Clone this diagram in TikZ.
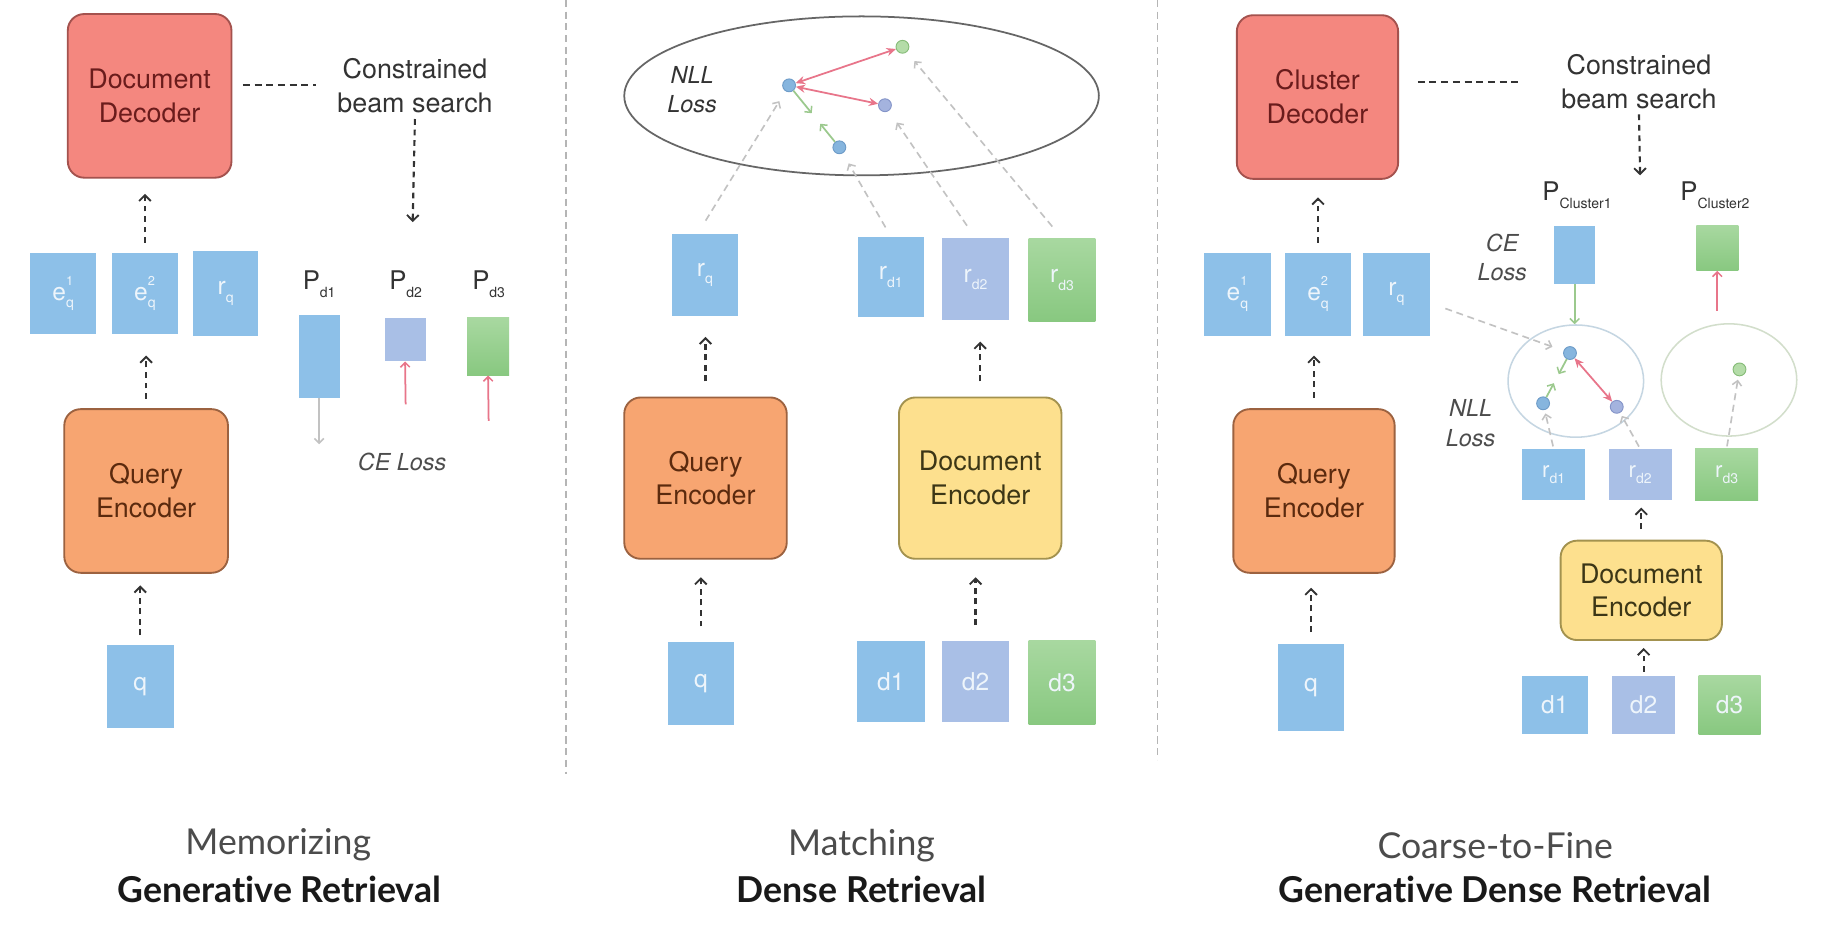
\documentclass[tikz,border=0pt]{standalone}
\usepackage{fontspec}
\setmainfont{TeX Gyre Heros}
\newfontfamily\capfont[Ligatures=NoCommon]{Lato}
\usetikzlibrary{arrows.meta,calc,shapes.geometric}

\definecolor{decfill}{HTML}{F4877F}
\definecolor{decdraw}{HTML}{A4524E}
\definecolor{dectext}{HTML}{6A1C1C}
\definecolor{qefill}{HTML}{F7A571}
\definecolor{qedraw}{HTML}{9C6240}
\definecolor{qetext}{HTML}{5B2A0E}
\definecolor{defill}{HTML}{FDE08E}
\definecolor{dedraw}{HTML}{A3924F}
\definecolor{detext}{HTML}{3C3616}
\definecolor{bblue}{HTML}{8DC0E8}
\definecolor{bpurp}{HTML}{A9BFE6}
\definecolor{bgreen}{HTML}{88C880}
\definecolor{bgreenl}{HTML}{A8D8A0}
\definecolor{btext}{HTML}{EEF5FB}
\definecolor{redarr}{HTML}{E8758A}
\definecolor{greenarr}{HTML}{9BC98D}
\definecolor{grayarr}{HTML}{C2C2C2}
\definecolor{sepcol}{HTML}{B5B5B5}
\definecolor{dasharr}{HTML}{333333}
\definecolor{ptblue}{HTML}{86B5DE}
\definecolor{ptblued}{HTML}{6E9CC8}
\definecolor{ptgreen}{HTML}{B4DCA8}
\definecolor{ptgreend}{HTML}{86BC78}
\definecolor{ptpurp}{HTML}{A4B3DE}
\definecolor{ptpurpd}{HTML}{8494C8}
\definecolor{clblue}{HTML}{C5D6E2}
\definecolor{clgreen}{HTML}{D2DECB}

\newcommand\sbx[2]{#1\raisebox{-0.3em}{\fontsize{12}{12}\selectfont #2}}
\newcommand\esx[3]{#1\rlap{\raisebox{0.6em}{\fontsize{11}{11}\selectfont #3}}\raisebox{-0.3em}{\fontsize{12}{12}\selectfont #2}}

\tikzset{
 bigbox/.style={rounded corners=14pt, line width=1.6pt, minimum width=140pt, minimum height=140pt, align=center, font=\fontsize{23}{29}\selectfont, inner sep=0pt},
 decbox/.style={bigbox, fill=decfill, draw=decdraw, text=dectext},
 qebox/.style={bigbox, fill=qefill, draw=qedraw, text=qetext},
 debox/.style={bigbox, fill=defill, draw=dedraw, text=detext},
 vbox/.style={minimum width=56pt, minimum height=70pt, inner sep=0pt, text=btext, font=\fontsize{21}{21}\selectfont},
 vb/.style={vbox, fill=bblue},
 vp/.style={vbox, fill=bpurp},
 vg/.style={vbox, top color=bgreenl, bottom color=bgreen},
 darr/.style={draw=dasharr, line width=1.8pt, dash pattern=on 5pt off 4pt, -{Straight Barb[length=5pt,width=10pt,line width=1.6pt]}},
 dline/.style={draw=dasharr, line width=1.5pt, dash pattern=on 6pt off 4pt},
 garr/.style={draw=grayarr, line width=1.4pt, dash pattern=on 6pt off 4pt, -{Straight Barb[length=4pt,width=8pt,line width=1.3pt]}},
 gsol/.style={draw=grayarr, line width=1.5pt, -{Straight Barb[length=4pt,width=8pt,line width=1.3pt]}},
 rarr/.style={draw=redarr, line width=1.5pt, {Stealth[length=8pt,width=7pt]}-{Stealth[length=8pt,width=7pt]}},
 rup/.style={draw=redarr, line width=1.5pt, -{Straight Barb[length=4pt,width=8pt,line width=1.3pt]}},
 grarr/.style={draw=greenarr, line width=1.5pt, -{Straight Barb[length=4pt,width=8pt,line width=1.3pt]}},
 embd/.style={circle, minimum size=11pt, inner sep=0pt, line width=0.8pt},
 eb/.style={embd, fill=ptblue, draw=ptblued},
 eg/.style={embd, fill=ptgreen, draw=ptgreend},
 ep/.style={embd, fill=ptpurp, draw=ptpurpd},
 lbl/.style={font=\fontsize{23}{29}\selectfont, align=center, text=black!80},
 plab/.style={font=\fontsize{22}{22}\selectfont, text=black!80},
 loss/.style={font=\fontsize{20}{25}\selectfont\itshape, text=black!70, align=center},
 sepline/.style={draw=sepcol, line width=1.3pt, dash pattern=on 6pt off 4pt},
 cap1/.style={font=\capfont\fontsize{30.5}{30.5}\selectfont, text=black!70},
 cap2/.style={font=\capfont\bfseries\fontsize{30.5}{30.5}\selectfont, text=black!90},
}

\begin{document}
\begin{tikzpicture}[x=1pt,y=-1pt]
\fill[white] (0,0) rectangle (1568,804);
\useasboundingbox (0,0) rectangle (1568,804);

% ================= LEFT PANEL =================
\node[decbox] (dec1) at (128,82) {Document\\Decoder};
\node[lbl] (cbs1) at (355,73) {Constrained\\beam search};
\draw[dline, shorten <=9pt, shorten >=15pt] (dec1.east |- cbs1) -- (cbs1.west);
\coordinate (bs1) at (353,190);
\draw[darr, shorten <=2pt] (cbs1.south) -- (bs1);

\node[vb] (e1a) at (54,251) {\esx{e}{q}{1}};
\node[vb] (e1b) at (124,251) {\esx{e}{q}{2}};
\node[vb, minimum height=72pt] (rq1) at (193,251) {\sbx{r}{q}};
\draw[darr, shorten <=8pt, shorten >=13pt] (e1b.north) -- (e1b.north |- dec1.south);

\node[plab] (pl1) at (273,243) {\sbx{P}{d1}};
\node[plab] (pl2) at (347,243) {\sbx{P}{d2}};
\node[plab] (pl3) at (418,243) {\sbx{P}{d3}};
\node[vb, minimum width=35pt, minimum height=71pt] (pd1) at (273,305) {};
\node[vp, minimum width=35pt, minimum height=37pt] (pd2) at (346.5,290.5) {};
\node[vg, minimum width=36pt, minimum height=49pt] (pd3) at (417.5,296.5) {};
\coordinate (ce1a) at (273,380);
\draw[gsol] (pd1.south) -- (ce1a);
\node[loss] (ce1) at (344,395) {CE Loss};
\coordinate (r1a) at (347,346);
\draw[rup] (r1a) -- (pd2.south);
\coordinate (r1b) at (418,360);
\draw[rup] (r1b) -- (pd3.south);

\node[qebox] (qe1) at (125,420) {Query\\Encoder};
\draw[darr, shorten <=8pt, shorten >=18pt] (qe1.north) -- (qe1.north |- e1b.south);
\node[vb, minimum width=57pt, minimum height=71pt] (q1) at (120,587) {q};
\draw[darr, shorten <=8pt, shorten >=10pt] (q1.north) -- (q1.north |- qe1.south);

% ================= MIDDLE PANEL =================
\draw[sepline] (484,0) -- (484,662);
\node[ellipse, draw=black!60, line width=1.5pt, minimum width=406pt, minimum height=136pt, inner sep=0pt] (ell) at (737,82) {};
\node[loss, text=black!80] (nll2) at (592,77) {NLL\\Loss};
\node[eb] (p0) at (675,73) {};
\node[eg] (pg) at (772,40) {};
\node[ep] (pp) at (757,90) {};
\node[eb] (pl) at (718,126) {};
\draw[rarr] (p0) -- (pg);
\draw[rarr] (p0) -- (pp);
\draw[grarr] (p0) -- ($(p0)!0.45!(pl)$);
\draw[grarr] (pl) -- ($(p0)!0.62!(pl)$);

\node[vb, minimum width=57pt] (rq2) at (603,235) {\sbx{r}{q}};
\node[vb, minimum height=69pt] (rd1) at (762,237) {\sbx{r}{d1}};
\node[vp, minimum width=57pt] (rd2) at (834.5,239) {\sbx{r}{d2}};
\node[vg, minimum width=57pt, minimum height=71pt] (rd3) at (908.5,239.5) {\sbx{r}{d3}};
\draw[garr, shorten <=13pt, shorten >=10pt] (rq2.100) -- (p0);
\draw[garr, shorten <=9pt, shorten >=10pt] (rd1.north) -- (pl);
\draw[garr, shorten <=13pt, shorten >=12pt] (rd2.north) -- (pp);
\draw[garr, shorten <=13pt, shorten >=10pt] (rd3.north) -- (pg);

\node[qebox, minimum width=139pt, minimum height=138pt] (qe2) at (603.5,409) {Query\\Encoder};
\node[debox, minimum width=139pt, minimum height=138pt] (de2) at (838.5,409) {Document\\Encoder};
\draw[darr, shorten <=13pt, shorten >=18pt] (qe2.north) -- (qe2.north |- rq2.south);
\draw[darr, shorten <=13pt, shorten >=18pt] (de2.north) -- (de2.north |- rd2.south);

\node[vb, minimum width=57pt, minimum height=71pt] (q2) at (599.5,584.5) {q};
\node[vb, minimum width=58pt] (d21) at (762,583) {d1};
\node[vp, minimum width=57pt] (d22) at (834.5,583) {d2};
\node[vg, minimum width=57pt, minimum height=72pt] (d23) at (908.5,584) {d3};
\draw[darr, shorten <=13pt, shorten >=15pt] (q2.north) -- (q2.north |- qe2.south);
\draw[darr, shorten <=13pt, shorten >=15pt] (d22.north) -- (d22.north |- de2.south);

% ================= RIGHT PANEL =================
\draw[sepline] (990,0) -- (990,650);
\node[decbox, minimum width=138pt] (dec3) at (1127,83) {Cluster\\Decoder};
\node[lbl] (cbs3) at (1402,70) {Constrained\\beam search};
\draw[dline, shorten <=16pt, shorten >=30pt] (dec3.east |- cbs3) -- (cbs3.west);
\coordinate (bs3) at (1403,150);
\draw[darr, shorten <=1pt] (cbs3.south) -- (bs3);

\node[plab] (pcl1) at (1349,167) {\sbx{P}{Cluster1}};
\node[plab] (pcl2) at (1467,167) {\sbx{P}{Cluster2}};
\node[vb, minimum width=35pt, minimum height=50pt] (pc1) at (1347,218) {};
\node[vg, minimum width=36pt, minimum height=39pt] (pc2) at (1469,212) {};
\node[loss] (ce3) at (1285,220) {CE\\Loss};

\node[ellipse, draw=clblue, line width=1.3pt, minimum width=116pt, minimum height=96pt, inner sep=0pt] (cl1) at (1348,326) {};
\node[ellipse, draw=clgreen, line width=1.3pt, minimum width=116pt, minimum height=96pt, inner sep=0pt] (cl2) at (1479,325) {};
\node[eb] (t1) at (1343,302) {};
\node[eb] (l1) at (1320,345) {};
\node[ep] (r1) at (1383,348) {};
\node[eg] (g2) at (1488,316) {};
\draw[grarr] (pc1.south) -- (pc1.south |- cl1.north);
\coordinate (rc2) at (1469,266);
\draw[rup] (rc2) -- (pc2.south);
\draw[rarr] (t1) -- (r1);
\draw[grarr] (t1) -- ($(t1)!0.42!(l1)$);
\draw[grarr] (l1) -- ($(t1)!0.6!(l1)$);

\node[vb, minimum width=57pt, minimum height=71pt] (e3a) at (1058.5,251.5) {\esx{e}{q}{1}};
\node[vb, minimum width=57pt, minimum height=71pt] (e3b) at (1127.5,251.5) {\esx{e}{q}{2}};
\node[vb, minimum width=57pt, minimum height=71pt] (rq3) at (1194.5,251.5) {\sbx{r}{q}};
\draw[darr, shorten <=8pt, shorten >=15pt] (e3b.north) -- (e3b.north |- dec3.south);
\draw[garr, shorten <=14pt, shorten >=10pt] (rq3.-15) -- (t1);

\node[qebox, minimum width=138pt] (qe3) at (1124,420) {Query\\Encoder};
\draw[darr, shorten <=9pt, shorten >=17pt] (qe3.north) -- (qe3.north |- e3b.south);
\node[vb, minimum width=57pt, minimum height=74pt] (q3) at (1121.5,588) {q};
\draw[darr, shorten <=10pt, shorten >=12pt] (q3.north) -- (q3.north |- qe3.south);

\node[loss] (nll3) at (1258,362) {NLL\\Loss};
\node[vb, minimum width=54pt, minimum height=44pt, font=\fontsize{19}{19}\selectfont] (rd31) at (1329,406) {\sbx{r}{d1}};
\node[vp, minimum width=54pt, minimum height=44pt, font=\fontsize{19}{19}\selectfont] (rd32) at (1403,406) {\sbx{r}{d2}};
\node[vg, minimum width=54pt, minimum height=44pt, font=\fontsize{19}{19}\selectfont] (rd33) at (1477,406) {\sbx{r}{d3}};
\draw[garr, shorten <=2pt, shorten >=3pt] (rd31.north) -- (l1);
\draw[garr, shorten <=2pt, shorten >=3pt] (rd32.north) -- (r1);
\draw[garr, shorten <=2pt, shorten >=3pt] (rd33.north) -- (g2);

\node[debox, minimum width=138pt, minimum height=85pt] (de3) at (1404,505) {Document\\Encoder};
\draw[darr, shorten <=9pt, shorten >=6pt] (de3.north) -- (de3.north |- rd32.south);
\node[vb, minimum width=56pt, minimum height=50pt] (d31) at (1330,603) {d1};
\node[vp, minimum width=54pt, minimum height=50pt] (d32) at (1406,603) {d2};
\node[vg, minimum width=53pt, minimum height=50pt] (d33) at (1479.5,603) {d3};
\draw[darr, shorten <=3pt, shorten >=6pt] (d32.north) -- (d32.north |- de3.south);

% ================= CAPTIONS =================
\node[cap1] (c1a) at (238,723) {Memorizing};
\node[cap2] (c1b) at (239,761) {Generative Retrieval};
\node[cap1] (c2a) at (737,723) {Matching};
\node[cap2] (c2b) at (737,761) {Dense Retrieval};
\node[cap1] (c3a) at (1279,723) {Coarse-to-Fine};
\node[cap2] (c3b) at (1279,761) {Generative Dense Retrieval};
\end{tikzpicture}
\end{document}
